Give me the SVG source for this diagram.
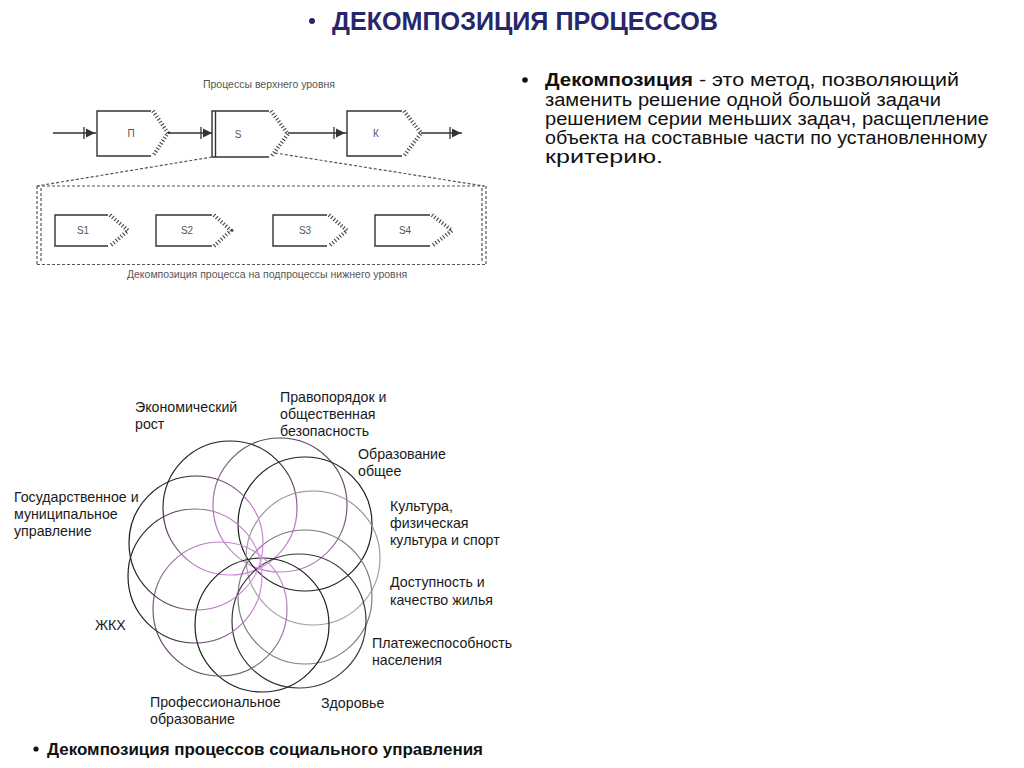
<svg xmlns="http://www.w3.org/2000/svg" width="1024" height="768" viewBox="0 0 1024 768">
<style>
.title{font-family:"Liberation Sans",Arial,sans-serif;font-weight:bold;font-size:25px;fill:#26266a}
.body{font-family:"Liberation Sans",Arial,sans-serif;font-size:18px;fill:#111}
.cap{font-family:"Liberation Sans",Arial,sans-serif;font-size:16px;font-weight:bold;fill:#111}
.lbl{font-family:"Liberation Sans",Arial,sans-serif;font-size:14.2px;fill:#1a1a1a}
.scan{font-family:"Liberation Sans",Arial,sans-serif;font-size:10.5px;fill:#555}
.boxlbl{font-family:"Liberation Sans",Arial,sans-serif;font-size:10px;fill:#555;text-anchor:middle}
.solid{fill:none;stroke:#333;stroke-width:1.4}
.hatch{fill:none;stroke:#444;stroke-width:4;stroke-dasharray:1.1 2.1}
.conn{fill:none;stroke:#333;stroke-width:1.3}
.dash{fill:none;stroke:#555;stroke-width:1.2;stroke-dasharray:3 2}
.ring{fill:none;stroke-width:1.2}
</style>
<defs>
<radialGradient id="gPink" gradientUnits="userSpaceOnUse" cx="252" cy="565" r="135">
<stop offset="0" stop-color="#e38ff0"/>
<stop offset="0.45" stop-color="#b878c0"/>
<stop offset="0.8" stop-color="#3a2a3a"/>
<stop offset="1" stop-color="#151515"/>
</radialGradient>
<radialGradient id="gPurple" gradientUnits="userSpaceOnUse" cx="252" cy="565" r="135">
<stop offset="0" stop-color="#d890e0"/>
<stop offset="0.6" stop-color="#9a78a2"/>
<stop offset="1" stop-color="#5a3a5a"/>
</radialGradient>
<linearGradient id="gGray" gradientUnits="userSpaceOnUse" x1="0" y1="480" x2="0" y2="670">
<stop offset="0" stop-color="#8a8a8a"/>
<stop offset="0.6" stop-color="#a8a8a8"/>
<stop offset="1" stop-color="#7fa07f"/>
</linearGradient>
<linearGradient id="gGray2" gradientUnits="userSpaceOnUse" x1="0" y1="520" x2="0" y2="690">
<stop offset="0" stop-color="#777"/>
<stop offset="1" stop-color="#6a946a"/>
</linearGradient>
</defs>
<rect width="1024" height="768" fill="#fff"/>

<g id="title">
<circle cx="312" cy="21" r="3" fill="#26266a"/>
<text class="title" x="332" y="30" textLength="386" lengthAdjust="spacingAndGlyphs">ДЕКОМПОЗИЦИЯ ПРОЦЕССОВ</text>
</g>

<g id="definition">
<circle cx="525" cy="80" r="2.8" fill="#111"/>
<text class="body" x="545" y="86" font-weight="bold" textLength="148" lengthAdjust="spacingAndGlyphs">Декомпозиция</text>
<text class="body" x="699" y="86" textLength="260" lengthAdjust="spacingAndGlyphs">- это метод, позволяющий</text>
<text class="body" x="545" y="105.5" textLength="396" lengthAdjust="spacingAndGlyphs">заменить решение одной большой задачи</text>
<text class="body" x="545" y="125" textLength="444" lengthAdjust="spacingAndGlyphs">решением серии меньших задач, расщепление</text>
<text class="body" x="545" y="144" textLength="442" lengthAdjust="spacingAndGlyphs">объекта на составные части по установленному</text>
<text class="body" x="545" y="163" textLength="118" lengthAdjust="spacingAndGlyphs">критерию.</text>
</g>

<g id="process-diagram">
<text class="scan" x="269" y="88" text-anchor="middle">Процессы верхнего уровня</text>
<g id="proc-P">
<path class="solid" d="M151,111 H97 V156 H151"/>
<path class="hatch" d="M153,111 L168,133 L153,156"/>
<text class="boxlbl" x="131" y="137">П</text>
</g>
<g id="proc-S">
<path class="solid" d="M269,111 H212 V157 H269"/>
<path class="solid" d="M215.5,111 V157"/>
<path class="hatch" d="M271,111 L288,134 L271,157"/>
<text class="boxlbl" x="238" y="138">S</text>
</g>
<g id="proc-K">
<path class="solid" d="M402,111 H347 V156 H402"/>
<path class="hatch" d="M404,111 L421,133 L404,156"/>
<text class="boxlbl" x="376" y="137">К</text>
</g>
<g id="connectors-top">
<path class="conn" d="M53,133 H96 M168,133 H212 M288,133 H347 M421,133 H462"/>
<path class="conn" d="M84,127 V139 M201,127 V139 M334,127 V139 M450,127 V139"/>
<polygon points="86,128.5 95,133 86,137.5" fill="#333"/>
<polygon points="203,128.5 212,133 203,137.5" fill="#333"/>
<polygon points="336,128.5 345,133 336,137.5" fill="#333"/>
<polygon points="452,128.5 461,133 452,137.5" fill="#333"/>
<path class="dash" d="M212,157 L37,186 M275,153 L484,186"/>
</g>
<g id="decomposition-frame">
<path class="dash" d="M37,186 H486 M37,264.5 H486 M37,186 V264.5 M41,188 V262 M486,186 V264.5 M482,188 V262"/>
</g>
<g id="sub-S1">
<path class="solid" d="M108,215 H55 V246 H108"/>
<path class="hatch" d="M110,215 L128,230.5 L110,246"/>
<text class="boxlbl" x="83" y="234">S1</text>
</g>
<g id="sub-S2">
<path class="solid" d="M212,215 H156 V246 H212"/>
<path class="hatch" d="M214,215 L231,230.5 L214,246"/>
<text class="boxlbl" x="187" y="234">S2</text>
</g>
<g id="sub-S3">
<path class="solid" d="M327,215 H273 V246 H327"/>
<path class="hatch" d="M329,215 L347,230.5 L329,246"/>
<text class="boxlbl" x="305" y="234">S3</text>
</g>
<g id="sub-S4">
<path class="solid" d="M430,215 H375 V246 H430"/>
<path class="hatch" d="M432,215 L452,230.5 L432,246"/>
<text class="boxlbl" x="405" y="234">S4</text>
</g>
<text class="scan" x="267" y="278" text-anchor="middle">Декомпозиция процесса на подпроцессы нижнего уровня</text>
</g>

<g id="rosette">
<circle id="c-econ" class="ring" cx="230" cy="508" r="67" stroke="url(#gPink)"/>
<circle id="c-pravo" class="ring" cx="280" cy="505" r="67" stroke="url(#gPurple)"/>
<circle id="c-obr" class="ring" cx="305" cy="524" r="67" stroke="#1e1e1e"/>
<circle id="c-kult" class="ring" cx="313" cy="558" r="67" stroke="url(#gGray)"/>
<circle id="c-dost" class="ring" cx="305" cy="597" r="67" stroke="url(#gGray2)"/>
<circle id="c-plat" class="ring" cx="299" cy="621" r="67" stroke="#3a3a3a"/>
<circle id="c-zdor" class="ring" cx="262" cy="625" r="67" stroke="#1e1e1e"/>
<circle id="c-prof" class="ring" cx="220" cy="609" r="67" stroke="url(#gPurple)"/>
<circle id="c-zhkh" class="ring" cx="195" cy="576" r="67" stroke="url(#gPink)"/>
<circle id="c-gos" class="ring" cx="196" cy="543" r="67" stroke="url(#gPink)"/>
</g>

<g id="labels">
<text class="lbl" x="135" y="412">Экономический</text>
<text class="lbl" x="135" y="429">рост</text>
<text class="lbl" x="280" y="402">Правопорядок и</text>
<text class="lbl" x="280" y="419">общественная</text>
<text class="lbl" x="280" y="436">безопасность</text>
<text class="lbl" x="358" y="459">Образование</text>
<text class="lbl" x="358" y="476">общее</text>
<text class="lbl" x="14" y="502">Государственное и</text>
<text class="lbl" x="14" y="519">муниципальное</text>
<text class="lbl" x="14" y="536">управление</text>
<text class="lbl" x="390" y="511">Культура,</text>
<text class="lbl" x="390" y="528">физическая</text>
<text class="lbl" x="390" y="545">культура и спорт</text>
<text class="lbl" x="390" y="587">Доступность и</text>
<text class="lbl" x="390" y="605">качество жилья</text>
<text class="lbl" x="95" y="630">ЖКХ</text>
<text class="lbl" x="372" y="648">Платежеспособность</text>
<text class="lbl" x="372" y="665">населения</text>
<text class="lbl" x="150" y="707">Профессиональное</text>
<text class="lbl" x="150" y="724">образование</text>
<text class="lbl" x="321" y="708">Здоровье</text>
</g>

<g id="caption">
<circle cx="36" cy="749" r="2.6" fill="#111"/>
<text class="cap" x="47" y="755" textLength="436" lengthAdjust="spacingAndGlyphs">Декомпозиция процессов социального управления</text>
</g>
</svg>
